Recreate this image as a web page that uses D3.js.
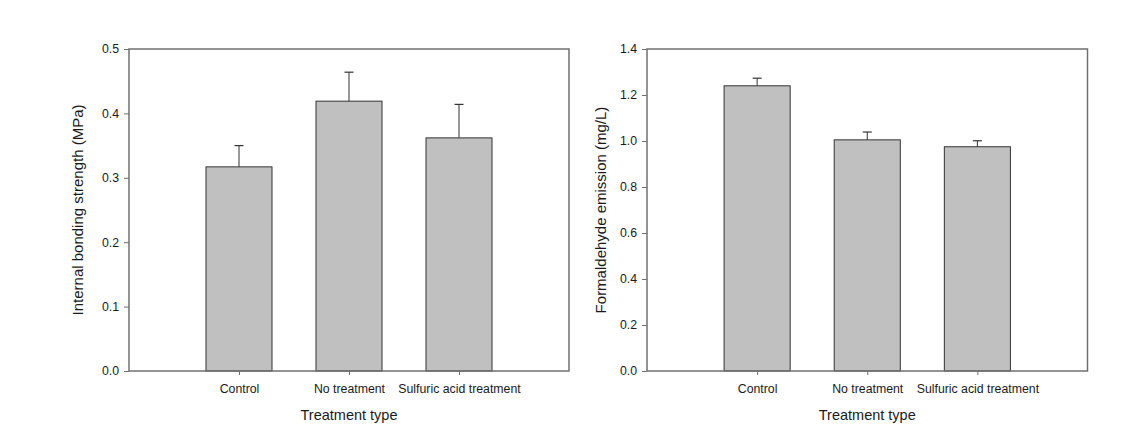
<!DOCTYPE html>
<html>
<head>
<meta charset="utf-8">
<script src="https://cdn.jsdelivr.net/npm/d3@7"></script>
<style>
  html, body { margin: 0; padding: 0; background: #fff; }
  svg { display: block; font-family: "Liberation Sans", Arial, sans-serif; }
</style>
</head>
<body>
<svg id="chart" width="1148" height="436"></svg>
<script>
const categories = ["Control", "No treatment", "Sulfuric acid treatment"];

const ibValues = [0.317, 0.419, 0.362];
const ibErrors = [0.033, 0.045, 0.052];
const ibTicks = [0.0, 0.1, 0.2, 0.3, 0.4, 0.5];

const feValues = [1.240, 1.005, 0.975];
const feErrors = [0.033, 0.034, 0.026];
const feTicks = [0.0, 0.2, 0.4, 0.6, 0.8, 1.0, 1.2, 1.4];

const xTitle = "Treatment type";
const ibTitle = "Internal bonding strength (MPa)";
const feTitle = "Formaldehyde emission (mg/L)";

const svg = d3.select("#chart");

function panel(cfg) {
  const { left, right, top, bottom, values, errors, ticks, yMax, yTitle, yTitleX } = cfg;
  const g = svg.append("g");
  const x = d3.scaleLinear().domain([0, categories.length + 1]).range([left, right]);
  const y = d3.scaleLinear().domain([0, yMax]).range([bottom, top]);
  const barW = 0.6;
  const textColor = "#1a1a1a";
  const axisColor = "#707070";

  // bars
  g.selectAll("rect.bar").data(values).join("rect")
    .attr("class", "bar")
    .attr("x", (d, i) => x(i + 1 - barW / 2))
    .attr("width", (d, i) => x(i + 1 + barW / 2) - x(i + 1 - barW / 2))
    .attr("y", d => y(d))
    .attr("height", d => y(0) - y(d))
    .attr("fill", "#c0c0c0")
    .attr("stroke", "#333")
    .attr("stroke-width", 1);

  // error bars (upper only)
  const eb = g.selectAll("g.err").data(values).join("g").attr("class", "err");
  eb.append("line")
    .attr("x1", (d, i) => x(i + 1)).attr("x2", (d, i) => x(i + 1))
    .attr("y1", d => y(d)).attr("y2", (d, i) => y(d + errors[i]))
    .attr("stroke", "#333").attr("stroke-width", 1);
  eb.append("line")
    .attr("x1", (d, i) => x(i + 1) - 4.5).attr("x2", (d, i) => x(i + 1) + 4.5)
    .attr("y1", (d, i) => y(d + errors[i])).attr("y2", (d, i) => y(d + errors[i]))
    .attr("stroke", "#333").attr("stroke-width", 1.2);

  // frame
  g.append("rect")
    .attr("x", left).attr("y", top)
    .attr("width", right - left).attr("height", bottom - top)
    .attr("fill", "none").attr("stroke", axisColor).attr("stroke-width", 1.5);

  // y axis
  const yAxis = g.append("g").attr("transform", `translate(${left},0)`)
    .call(d3.axisLeft(y).tickValues(ticks).tickFormat(d3.format(".1f")).tickSize(5).tickPadding(5));
  yAxis.select(".domain").remove();
  yAxis.selectAll(".tick line").attr("stroke", axisColor).attr("stroke-width", 1);
  yAxis.selectAll(".tick text").attr("fill", textColor).style("font-size", "12.3px")
    .style("font-family", "'Liberation Sans', Arial, sans-serif");

  // x axis
  const xAxis = g.append("g").attr("transform", `translate(0,${bottom})`)
    .call(d3.axisBottom(x).tickValues(categories.map((c, i) => i + 1))
      .tickFormat((d) => categories[d - 1]).tickSize(4).tickPadding(9));
  xAxis.select(".domain").remove();
  xAxis.selectAll(".tick line").attr("stroke", axisColor).attr("stroke-width", 1);
  xAxis.selectAll(".tick text").attr("fill", textColor).style("font-size", "12.3px")
    .style("font-family", "'Liberation Sans', Arial, sans-serif");

  // axis titles
  g.append("text")
    .attr("x", (left + right) / 2).attr("y", 420)
    .attr("text-anchor", "middle").attr("fill", textColor)
    .style("font-size", "14.5px").text(xTitle);
  g.append("text")
    .attr("transform", `translate(${yTitleX},${(top + bottom) / 2}) rotate(-90)`)
    .attr("text-anchor", "middle").attr("fill", textColor)
    .style("font-size", "15px").text(yTitle);
}

panel({ left: 129, right: 569, top: 49, bottom: 371, values: ibValues, errors: ibErrors,
        ticks: ibTicks, yMax: 0.5, yTitle: ibTitle, yTitleX: 83 });
panel({ left: 647, right: 1087.5, top: 49, bottom: 371, values: feValues, errors: feErrors,
        ticks: feTicks, yMax: 1.4, yTitle: feTitle, yTitleX: 606 });
</script>
</body>
</html>
